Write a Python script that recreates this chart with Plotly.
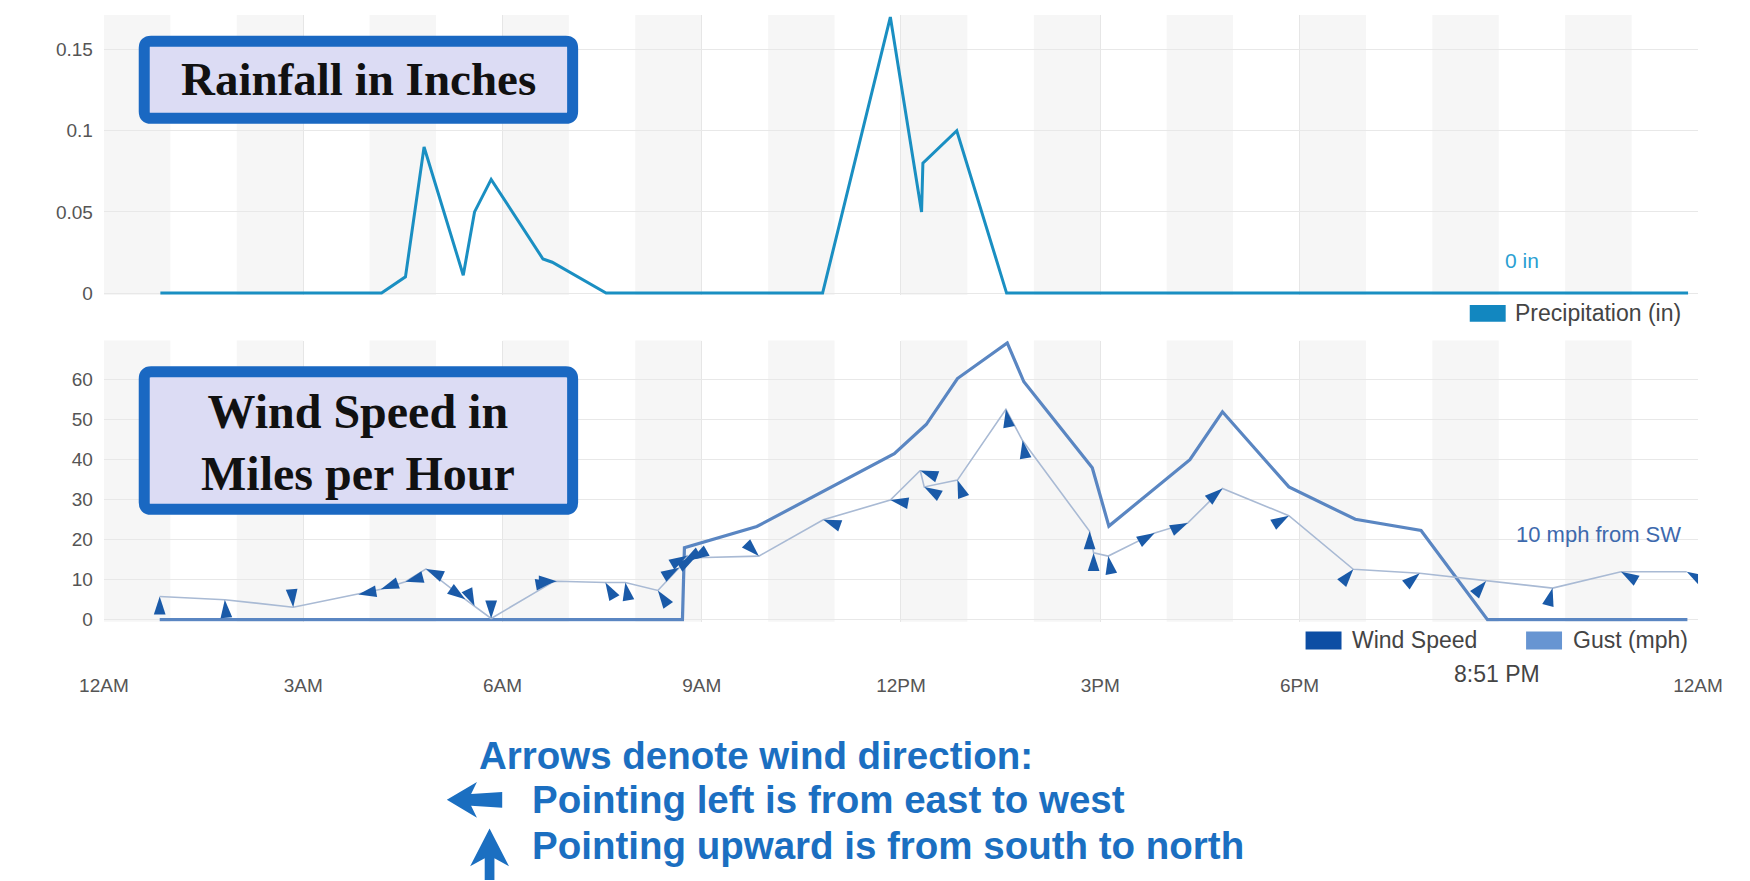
import plotly.graph_objects as go

W, H = 1750, 881

# ---------------- data ----------------
precip_hours = [0.85, 4.18, 4.54, 4.82, 5.41, 5.58, 5.83, 6.61, 6.75, 7.56,
                10.82, 11.84, 12.31, 12.33, 12.84, 13.59, 23.85]
precip_in = [0, 0, 0.01, 0.09, 0.011, 0.05, 0.07, 0.021, 0.019, 0,
             0, 0.17, 0.05, 0.08, 0.10, 0, 0]

gust_hours = [0.84, 8.71, 8.74, 9.83, 11.9, 12.38, 12.85, 13.6, 13.85, 14.88,
              15.13, 16.35, 16.84, 17.84, 18.84, 19.83, 20.83, 23.84]
gust_mph = [0, 0, 18, 23.3, 41.5, 48.8, 60.3, 69.2, 59.5, 38,
            23.4, 40, 52, 33.2, 25.1, 22.3, 0, 0]

wind_hours = [0.84, 1.82, 2.85, 3.83, 4.17, 4.54, 4.85, 5.44, 5.58, 5.83,
              6.77, 6.82, 7.55, 7.85, 8.34, 8.66, 8.72, 8.78, 8.84, 8.90,
              9.86, 10.83, 11.84, 12.29, 12.35, 12.85, 13.58, 13.83, 14.84, 14.90,
              15.12, 15.82, 16.32, 16.84, 17.84, 18.81, 19.81, 20.81, 21.81, 22.84,
              23.83]
wind_mph = [5.8, 5.0, 3.1, 6.3, 7.6, 9.5, 12.7, 5.1, 3.4, 0.3,
            9.5, 9.6, 9.3, 9.3, 7.3, 13.0, 14.5, 16.0, 15.0, 15.5,
            15.9, 25.0, 29.9, 37.3, 33.2, 34.9, 52.6, 44.8, 22.1, 16.7,
            15.9, 21.7, 24.2, 32.8, 26.0, 12.6, 11.6, 9.7, 7.9, 12.0,
            12.0]
# direction the arrow points (degrees clockwise from north)
wind_arrow_deg = [0, 355, 175, 260, 250, 255, 295, 125, 155, 180,
                  80, 90, 330, 350, 325, 60, 240, 60, 240, 60,
                  135, 290, 280, 290, 300, 340, 350, 350, 0, 0,
                  350, 60, 65, 50, 60, 40, 50, 40, 15, 300,
                  300]

x_tick_vals = [0, 3, 6, 9, 12, 15, 18, 24]
x_tick_text = ["12AM", "3AM", "6AM", "9AM", "12PM", "3PM", "6PM", "12AM"]
rain_tick_vals = [0, 0.05, 0.1, 0.15]
rain_tick_text = ["0", "0.05", "0.1", "0.15"]
wind_tick_vals = [0, 10, 20, 30, 40, 50, 60]

# ---------------- helpers ----------------
def px(x):
    return x / W

def py(y):
    return 1 - y / H

def poly(points):
    return "M " + " L ".join(f"{px(x):.5f},{py(y):.5f}" for x, y in points) + " Z"

def rounded_rect(x0, y0, x1, y1, r):
    return (f"M {px(x0 + r):.5f},{py(y0):.5f} L {px(x1 - r):.5f},{py(y0):.5f} "
            f"Q {px(x1):.5f},{py(y0):.5f} {px(x1):.5f},{py(y0 + r):.5f} "
            f"L {px(x1):.5f},{py(y1 - r):.5f} "
            f"Q {px(x1):.5f},{py(y1):.5f} {px(x1 - r):.5f},{py(y1):.5f} "
            f"L {px(x0 + r):.5f},{py(y1):.5f} "
            f"Q {px(x0):.5f},{py(y1):.5f} {px(x0):.5f},{py(y1 - r):.5f} "
            f"L {px(x0):.5f},{py(y0 + r):.5f} "
            f"Q {px(x0):.5f},{py(y0):.5f} {px(x0 + r):.5f},{py(y0):.5f} Z")

FONT = "Arial, Liberation Sans, sans-serif"
SERIF = "Times New Roman, Liberation Serif, serif"

fig = go.Figure()

fig.add_trace(go.Scatter(
    x=precip_hours, y=precip_in, mode="lines", name="Precipitation (in)",
    line=dict(color="#1a8fc2", width=3), xaxis="x", yaxis="y", showlegend=False))

fig.add_trace(go.Scatter(
    x=gust_hours, y=gust_mph, mode="lines", name="Gust (mph)",
    line=dict(color="#5a86c2", width=3.2), xaxis="x2", yaxis="y2", showlegend=False))

fig.add_trace(go.Scatter(
    x=wind_hours, y=wind_mph, mode="lines+markers", name="Wind Speed",
    line=dict(color="#a9bad4", width=1.6),
    marker=dict(symbol="arrow", size=19, angle=wind_arrow_deg, color="#1a5aa8",
                line=dict(width=0)),
    xaxis="x2", yaxis="y2", showlegend=False))

xdom = [px(73), px(1714)]
axis_common = dict(range=[0, 24], domain=xdom, tickvals=x_tick_vals, showgrid=True,
                   gridcolor="#e6e6e6", gridwidth=1, zeroline=False, showline=False,
                   ticks="")

shapes = []
# alternating hourly bands
for xr, yr in [("x", "y domain"), ("x2", "y2 domain")]:
    for h in range(0, 24, 2):
        shapes.append(dict(type="rect", xref=xr, yref=yr, x0=h, x1=h + 1, y0=0, y1=1,
                           fillcolor="#f6f6f6", line=dict(width=0), layer="below"))

# title boxes
shapes.append(dict(type="path", xref="paper", yref="paper",
                   path=rounded_rect(114.5, 33.5, 555.5, 111.5, 7),
                   fillcolor="#dcdcf4", line=dict(color="#1a68c2", width=11)))
shapes.append(dict(type="path", xref="paper", yref="paper",
                   path=rounded_rect(114.5, 367.5, 555.5, 506.5, 7),
                   fillcolor="#dcdcf4", line=dict(color="#1a68c2", width=11)))

# legend swatches
shapes.append(dict(type="rect", xref="paper", yref="paper",
                   x0=px(1479), x1=px(1516), y0=py(317), y1=py(300),
                   fillcolor="#1287c0", line=dict(width=0)))
shapes.append(dict(type="rect", xref="paper", yref="paper",
                   x0=px(1310), x1=px(1347), y0=py(648), y1=py(630),
                   fillcolor="#0d4ea4", line=dict(width=0)))
shapes.append(dict(type="rect", xref="paper", yref="paper",
                   x0=px(1537), x1=px(1574), y0=py(648), y1=py(630),
                   fillcolor="#6795d2", line=dict(width=0)))

# explanation arrow icons
shapes.append(dict(type="path", xref="paper", yref="paper",
                   path=poly([(426, 800), (457, 782), (451, 794), (483, 792),
                              (483, 808), (451, 806), (457, 818)]),
                   fillcolor="#1b6fc1", line=dict(width=0)))
shapes.append(dict(type="path", xref="paper", yref="paper",
                   path=poly([(470, 829), (490, 867), (475, 859), (475, 881),
                              (465, 881), (465, 859), (450, 867)]),
                   fillcolor="#1b6fc1", line=dict(width=0)))

annotations = [
    dict(text="<b>Rainfall in Inches</b>", x=px(335), y=py(72), xref="paper", yref="paper",
         showarrow=False, font=dict(family=SERIF, size=47, color="#111111"),
         xanchor="center", yanchor="middle"),
    dict(text="<b>Wind Speed in<br>Miles per Hour</b>", x=px(335), y=py(439),
         xref="paper", yref="paper", showarrow=False,
         font=dict(family=SERIF, size=48, color="#111111"),
         xanchor="center", yanchor="middle"),
    dict(text="Precipitation (in)", x=px(1524), y=py(308), xref="paper", yref="paper",
         showarrow=False, font=dict(family=FONT, size=23, color="#444444"),
         xanchor="left", yanchor="middle"),
    dict(text="Wind Speed", x=px(1356), y=py(639), xref="paper", yref="paper",
         showarrow=False, font=dict(family=FONT, size=23, color="#444444"),
         xanchor="left", yanchor="middle"),
    dict(text="Gust (mph)", x=px(1583), y=py(639), xref="paper", yref="paper",
         showarrow=False, font=dict(family=FONT, size=23, color="#444444"),
         xanchor="left", yanchor="middle"),
    dict(text="0 in", x=px(1533), y=py(255), xref="paper", yref="paper",
         showarrow=False, font=dict(family=FONT, size=21, color="#2a9fd2"),
         xanchor="center", yanchor="middle"),
    dict(text="10 mph from SW", x=px(1612), y=py(532), xref="paper", yref="paper",
         showarrow=False, font=dict(family=FONT, size=22, color="#3d69ad"),
         xanchor="center", yanchor="middle"),
    dict(text="8:51 PM", x=px(1507), y=py(673), xref="paper", yref="paper",
         showarrow=False, font=dict(family=FONT, size=23, color="#444444"),
         xanchor="center", yanchor="middle"),
    dict(text="<b>Arrows denote wind direction:</b>", x=px(457), y=py(755),
         xref="paper", yref="paper", showarrow=False,
         font=dict(family=FONT, size=38.5, color="#1b6fc1"),
         xanchor="left", yanchor="middle"),
    dict(text="<b>Pointing left is from east to west</b>", x=px(512), y=py(800),
         xref="paper", yref="paper", showarrow=False,
         font=dict(family=FONT, size=38.5, color="#1b6fc1"),
         xanchor="left", yanchor="middle"),
    dict(text="<b>Pointing upward is from south to north</b>", x=px(512), y=py(846),
         xref="paper", yref="paper", showarrow=False,
         font=dict(family=FONT, size=38.5, color="#1b6fc1"),
         xanchor="left", yanchor="middle"),
]

fig.update_layout(
    width=W, height=H, margin=dict(l=0, r=0, t=0, b=0),
    paper_bgcolor="white", plot_bgcolor="white",
    font=dict(family=FONT, color="#555555"),
    showlegend=False,
    xaxis=dict(axis_common, anchor="y", showticklabels=False),
    yaxis=dict(domain=[py(290), py(7)], range=[-0.0012, 0.1713],
               tickvals=rain_tick_vals, ticktext=rain_tick_text,
               gridcolor="#e8e8e8", zeroline=False, showline=False, ticks="",
               tickfont=dict(size=19, color="#555555"), ticklabelstandoff=10,
               anchor="x"),
    xaxis2=dict(axis_common, anchor="y2", ticktext=x_tick_text,
                tickfont=dict(size=19, color="#555555"), ticklabelstandoff=50),
    yaxis2=dict(domain=[py(620), py(336)], range=[-0.5, 69.8],
                tickvals=wind_tick_vals, gridcolor="#e8e8e8", zeroline=False,
                showline=False, ticks="", tickfont=dict(size=19, color="#555555"),
                ticklabelstandoff=10, anchor="x2"),
    shapes=shapes,
    annotations=annotations,
)

fig.write_html("out.html", config={"displayModeBar": False})
